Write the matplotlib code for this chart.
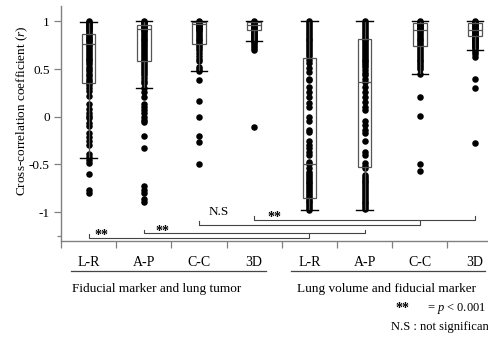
import matplotlib
matplotlib.use("Agg")
import matplotlib.pyplot as plt

plt.rcParams['font.family'] = ['Liberation Serif', 'DejaVu Serif']
plt.rcParams['mathtext.fontset'] = 'custom'
plt.rcParams['mathtext.rm'] = 'Liberation Serif'
plt.rcParams['mathtext.it'] = 'Liberation Serif:italic'

# categories
cats = ['L-R', 'A-P', 'C-C', '3D', 'L-R', 'A-P', 'C-C', '3D']
groups = ['Fiducial marker and lung tumor', 'Lung volume and fiducial marker']

# box statistics: (whislo, q1, med, q3, whishi)
box_lo = [-0.43, 0.30, 0.48, 0.79, -0.98, -0.98, 0.445, 0.70]
box_q1 = [0.35, 0.58, 0.76, 0.91, -0.85, -0.525, 0.74, 0.85]
box_med = [0.76, 0.92, 0.97, 0.96, -0.50, 0.367, 0.91, 0.91]
box_q3 = [0.87, 0.96, 0.99, 0.99, 0.62, 0.82, 0.98, 0.98]
box_hi = [0.99, 1.0, 1.0, 1.0, 1.0, 1.0, 1.0, 1.0]

# individual correlation coefficients
fid_lr = [1.0, 0.99, 0.98, 0.97, 0.96, 0.95, 0.94, 0.93, 0.92, 0.91, 0.90, 0.88,
          0.87, 0.86, 0.84, 0.83, 0.81, 0.80, 0.78, 0.76, 0.75, 0.73, 0.71, 0.69,
          0.67, 0.65, 0.63, 0.61, 0.59, 0.57, 0.55, 0.52, 0.50, 0.48, 0.45, 0.43,
          0.40, 0.38, 0.35, 0.33, 0.30, 0.27, 0.22, 0.13, 0.08, 0.04, 0.01, -0.01,
          -0.07, -0.10, -0.17, -0.21, -0.25, -0.30, -0.39, -0.42, -0.45, -0.49,
          -0.60, -0.77, -0.80]
fid_ap = [1.0, 0.99, 0.98, 0.97, 0.96, 0.95, 0.94, 0.93, 0.92, 0.91, 0.90, 0.88,
          0.86, 0.84, 0.82, 0.80, 0.78, 0.76, 0.74, 0.72, 0.70, 0.68, 0.66, 0.64,
          0.62, 0.60, 0.58, 0.56, 0.54, 0.52, 0.50, 0.48, 0.46, 0.44, 0.41, 0.38,
          0.35, 0.30, 0.26, 0.21, 0.13, 0.105, 0.07, 0.035, 0.0, -0.03, -0.06,
          -0.20, -0.33, -0.73, -0.77, -0.80, -0.86, -0.90]
fid_cc = [1.0, 0.99, 0.98, 0.97, 0.96, 0.95, 0.94, 0.93, 0.92, 0.91, 0.90, 0.88,
          0.86, 0.84, 0.82, 0.80, 0.78, 0.76, 0.74, 0.72, 0.70, 0.67, 0.64, 0.61,
          0.58, 0.525, 0.50, 0.48, 0.385, 0.165, 0.0, -0.20, -0.27, -0.50]
fid_3d = [1.0, 0.99, 0.98, 0.97, 0.96, 0.95, 0.94, 0.93, 0.92, 0.91, 0.90, 0.89,
          0.88, 0.87, 0.86, 0.85, 0.84, 0.83, 0.82, 0.81, 0.80, 0.79, 0.78, 0.76,
          0.74, 0.72, 0.70, -0.105]
lung_lr = [1.0, 0.98, 0.96, 0.94, 0.92, 0.90, 0.88, 0.86, 0.84, 0.82, 0.80, 0.78,
           0.76, 0.74, 0.72, 0.70, 0.68, 0.66, 0.64, 0.60, 0.56, 0.515, 0.466,
           0.40, 0.385, 0.315, 0.262, 0.21, 0.14, 0.105, 0.0, -0.045, -0.14,
           -0.164, -0.26, -0.30, -0.33, -0.37, -0.40, -0.47, -0.50, -0.54, -0.58,
           -0.60, -0.62, -0.64, -0.66, -0.68, -0.70, -0.72, -0.74, -0.76, -0.78,
           -0.80, -0.82, -0.84, -0.86, -0.88, -0.90, -0.92, -0.94, -0.96, -0.98]
lung_ap = [1.0, 0.98, 0.96, 0.94, 0.92, 0.90, 0.88, 0.86, 0.84, 0.82, 0.80, 0.78,
           0.76, 0.74, 0.72, 0.70, 0.68, 0.66, 0.64, 0.62, 0.60, 0.58, 0.56, 0.54,
           0.52, 0.49, 0.46, 0.44, 0.40, 0.367, 0.315, 0.26, 0.21, 0.157, 0.105,
           0.07, -0.05, -0.087, -0.14, -0.175, -0.26, -0.367, -0.40, -0.49, -0.52,
           -0.54, -0.61, -0.63, -0.65, -0.67, -0.69, -0.71, -0.73, -0.75, -0.77,
           -0.79, -0.81, -0.83, -0.85, -0.87, -0.89, -0.91, -0.93, -0.95, -0.97]
lung_cc = [1.0, 0.99, 0.98, 0.97, 0.96, 0.95, 0.94, 0.93, 0.92, 0.91, 0.90, 0.88,
           0.86, 0.84, 0.82, 0.80, 0.78, 0.76, 0.74, 0.72, 0.70, 0.68, 0.66, 0.64,
           0.62, 0.60, 0.58, 0.56, 0.54, 0.52, 0.50, 0.445, 0.21, 0.007, -0.50,
           -0.57]
lung_3d = [1.0, 0.99, 0.98, 0.97, 0.96, 0.95, 0.94, 0.93, 0.92, 0.91, 0.90, 0.89,
           0.88, 0.87, 0.86, 0.85, 0.84, 0.83, 0.82, 0.81, 0.80, 0.79, 0.78, 0.77,
           0.76, 0.75, 0.74, 0.73, 0.72, 0.70, 0.68, 0.66, 0.63, 0.40, 0.30, -0.28]
series = [fid_lr, fid_ap, fid_cc, fid_3d, lung_lr, lung_ap, lung_cc, lung_3d]

# significance brackets: start box, end box, level, label
br_start = [0, 1, 2, 3]
br_end = [4, 5, 6, 7]
br_level = [-1.27, -1.224, -1.137, -1.081]
br_label = ['**', '**', 'N.S', '**']

pos = [i + 0.5 for i in range(len(cats))]
# where the bracket labels sit, relative to the bracket start
lab_dx = [0.24, 0.33, 0.36, 0.37]

fig = plt.figure(figsize=(4.89, 3.38), dpi=100)
ax = fig.add_axes([0.1247, 0.2879, 0.9031, 0.6944])

for x, vals in zip(pos, series):
    ax.scatter([x] * len(vals), vals, s=22, color='black', zorder=2, linewidths=0)

stats = []
for i in range(len(cats)):
    stats.append(dict(whislo=box_lo[i], q1=box_q1[i], med=box_med[i],
                      q3=box_q3[i], whishi=box_hi[i], fliers=[]))
gray = '#555555'
ax.bxp(stats, positions=pos, widths=0.245, capwidths=0.3, showfliers=False,
       patch_artist=True, manage_ticks=False, zorder=3,
       boxprops=dict(facecolor='none', edgecolor=gray, linewidth=0.9),
       medianprops=dict(color=gray, linewidth=0.9),
       whiskerprops=dict(color=gray, linewidth=0.9),
       capprops=dict(color='black', linewidth=1.0))

# brackets
for s, e, lev, lab, dx in zip(br_start, br_end, br_level, br_label, lab_dx):
    xs, xe = pos[s], pos[e]
    ax.plot([xs, xs, xe, xe], [lev + 0.04, lev, lev, lev + 0.04],
            color='#444444', lw=0.8, clip_on=False, zorder=1)
    if lab == 'N.S':
        ax.text(xs + dx, lev + 0.075, lab, ha='center', va='bottom', fontsize=9.5)
    else:
        ax.text(xs + dx, lev + 0.02, lab, ha='center', va='center',
                fontsize=10, fontweight='bold')

ax.set_xlim(0, 8)
ax.set_ylim(-1.301, 1.162)
ax.set_yticks([-1, -0.5, 0, 0.5, 1])
ax.set_yticklabels(['-1', '-0.5', '0', '0.5', '1'])
ax.set_yticks([-1.25], minor=True)
ax.set_xticks(range(0, 8))
ax.set_xticklabels([])
ax.tick_params(axis='both', which='both', color='#808080', length=5, width=0.9,
               labelsize=9.5, pad=3)
ax.tick_params(axis='y', which='minor', length=3)
for side in ['top', 'right']:
    ax.spines[side].set_visible(False)
for side in ['left', 'bottom']:
    ax.spines[side].set_color('#808080')
    ax.spines[side].set_linewidth(1.0)

trans = ax.get_xaxis_transform()
for x, c in zip(pos, cats):
    ax.text(x, -0.091, c, transform=trans, ha='center', va='center', fontsize=10,
            clip_on=False)
ax.plot([0.176, 3.708], [-0.129, -0.129], transform=trans, color='#444444',
        lw=0.9, clip_on=False)
ax.plot([4.16, 7.68], [-0.129, -0.129], transform=trans, color='#444444',
        lw=0.9, clip_on=False)
ax.text(1.74, -0.206, groups[0], transform=trans, ha='center', va='center',
        fontsize=9.5, clip_on=False)
ax.text(5.90, -0.206, groups[1], transform=trans, ha='center', va='center',
        fontsize=9.5, clip_on=False)
ax.text(6.19, -0.291, '**', transform=trans, ha='center', va='center',
        fontsize=10, fontweight='bold', clip_on=False)
ax.text(6.63, -0.291, r'= $\it{p}$ < 0.001', transform=trans, ha='left',
        va='center', fontsize=9, clip_on=False)
ax.text(5.98, -0.368, 'N.S : not significan', transform=trans, ha='left',
        va='center', fontsize=9, clip_on=False)

fig.text(22 / 489, 1 - 111 / 338, r'Cross-correlation coefficient ($\it{r}$)',
         rotation=90, ha='center', va='center', fontsize=9.5)

fig.savefig('out.png', dpi=100)
